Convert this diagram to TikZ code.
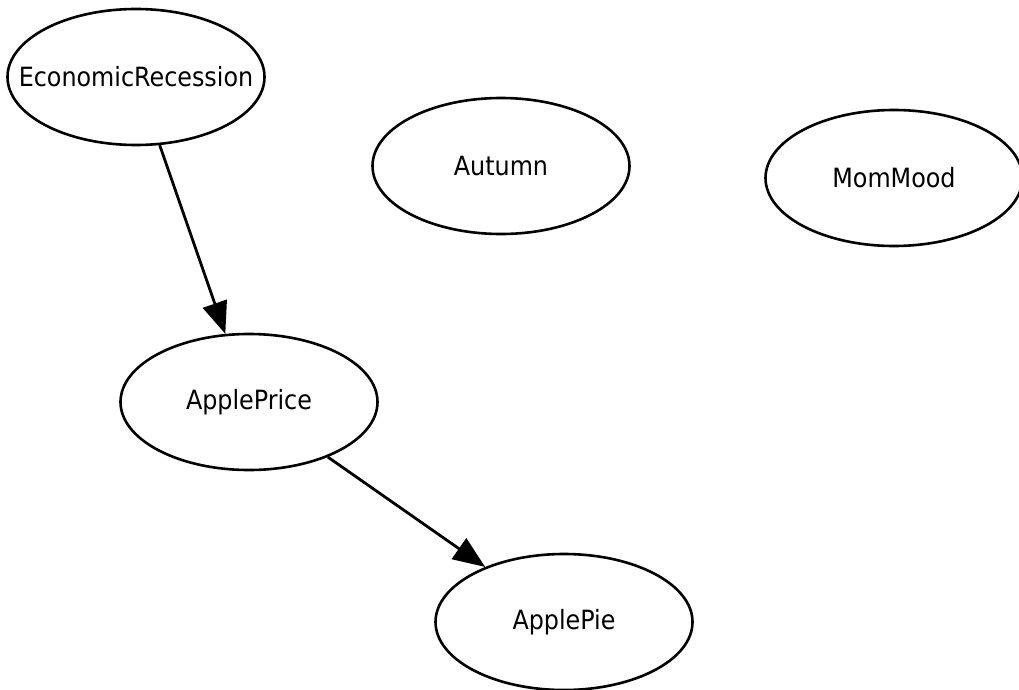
\documentclass[tikz,border=0pt]{standalone}
\usepackage{fontspec}
\setmainfont{DejaVu Sans Condensed}
\usetikzlibrary{shapes.geometric,arrows.meta}
% label set in a zero-width box so the ellipse keeps its fixed size
\newcommand{\vlabel}[1]{\makebox[0pt][c]{#1}}
\begin{document}
\begin{tikzpicture}[x=1pt,y=-1pt,
  var/.style={ellipse,draw=black,line width=2.6pt,minimum width=257pt,minimum height=136pt,inner sep=0pt,font=\fontsize{26.5}{30}\selectfont},
  dep/.style={draw=black,line width=2.8pt,-{Triangle[length=32pt,width=25pt]}}]
  \useasboundingbox (0,0) rectangle (1019,690);
  \node[var] (er) at (136,77) {\vlabel{EconomicRecession}};
  \node[var] (au) at (501,166) {\vlabel{Autumn}};
  \node[var] (mm) at (894,178) {\vlabel{MomMood}};
  \node[var] (ap) at (249,402) {\vlabel{ApplePrice}};
  \node[var] (pie) at (564,622) {\vlabel{ApplePie}};
  \draw[dep] (er) -- (ap);
  \draw[dep] (ap) -- (pie);
\end{tikzpicture}
\end{document}
